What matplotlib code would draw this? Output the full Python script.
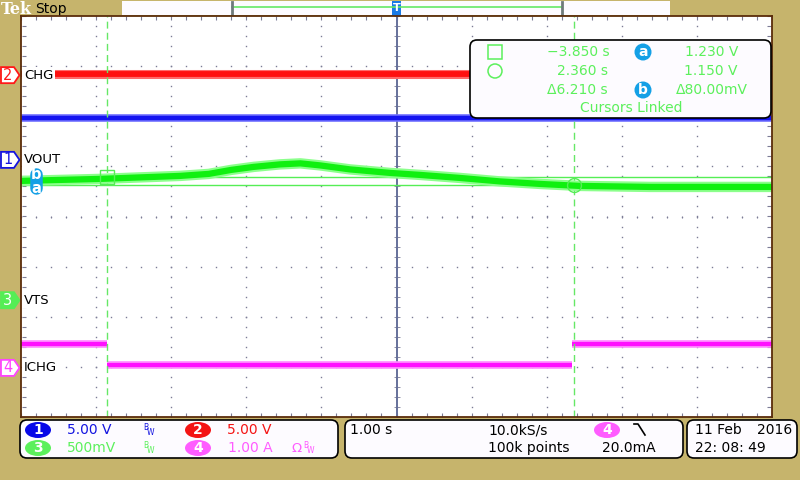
import numpy as np
import matplotlib.pyplot as plt
from matplotlib.patches import FancyBboxPatch, Polygon, Circle, Ellipse, Rectangle
from matplotlib import transforms

# channel setup: scale per division and ground level (in divisions from centre)
ch1_scale, ch1_gnd = 5.0, 1.13
ch2_scale, ch2_gnd = 5.0, 2.82
ch3_scale, ch3_gnd = 0.5, -1.67
ch4_scale, ch4_gnd = 1.0, -3.02

# traces (time in s, 1 s/div, trigger at 0)
chg_t = [-5.0, 5.0]
chg_v = [0.1, 0.1]
ch1_t = [-5.0, 5.0]
ch1_v = [4.2, 4.2]
vout_t = [-5.0, -3.95, -2.88, -2.5, -2.2, -1.9, -1.55, -1.28, -1.02,
          -0.62, -0.09, 0.31, 0.84, 1.38, 1.91, 2.44, 3.38, 5.0]
vout_v = [1.19, 1.21, 1.24, 1.26, 1.30, 1.33, 1.355, 1.365, 1.345,
          1.305, 1.27, 1.25, 1.22, 1.185, 1.16, 1.14, 1.13, 1.13]
ichg_start = [-5.0, -3.85, 2.34]
ichg_end = [-3.85, 2.34, 5.0]
ichg_a = [0.48, 0.06, 0.48]

cursor_t = [-3.85, 2.36]
cursor_v = [1.23, 1.15]

BEIGE = '#c6b46c'
GRID = '#7c7c96'
GREEN_TXT = '#5cf05c'

fig = plt.figure(figsize=(8, 4.8), dpi=100, facecolor=BEIGE)
ui = fig.add_axes([0, 0, 1, 1])
ui.set_xlim(0, 800)
ui.set_ylim(480, 0)
ui.axis('off')
ui.set_zorder(0)

ax = fig.add_axes([21 / 800, 1 - 417 / 480, 751 / 800, 401 / 480])
ax.set_zorder(1)
ax.set_xlim(-5, 5)
ax.set_ylim(-4, 4)
ax.set_facecolor('white')
for s in ax.spines.values():
    s.set_color('#5a2c0a')
    s.set_linewidth(1.3)
ax.set_xticks([])
ax.set_yticks([])

# graticule dots
for gx in range(-4, 5):
    yy = np.arange(-4, 4.01, 0.2)
    ax.plot(np.full_like(yy, gx), yy, ls='none', marker='s', ms=1.0, mew=0, color=GRID)
for gy in range(-3, 4):
    xx = np.arange(-5, 5.01, 0.2)
    ax.plot(xx, np.full_like(xx, gy), ls='none', marker='s', ms=1.0, mew=0, color=GRID)
# edge and centre ticks
mx = np.arange(-5, 5.01, 0.2)
my = np.arange(-4, 4.01, 0.2)
ax.plot(mx, np.full_like(mx, 3.97), ls='none', marker='|', ms=3, mew=0.8, color=GRID)
ax.plot(mx, np.full_like(mx, -3.97), ls='none', marker='|', ms=3, mew=0.8, color=GRID)
ax.plot(mx, np.zeros_like(mx), ls='none', marker='|', ms=2, mew=0.6, color=GRID)
ax.plot(np.full_like(my, 4.96), my, ls='none', marker='_', ms=3, mew=0.8, color=GRID)
ax.plot(np.full_like(my, -4.96), my, ls='none', marker='_', ms=3, mew=0.8, color=GRID)
ax.plot(np.zeros_like(my), my, ls='none', marker='_', ms=4.5, mew=0.6, color=GRID)
ax.axvline(0, color='#65709a', lw=1.4)


def to_div(v, scale, gnd):
    return np.asarray(v) / scale + gnd


# traces
ax.plot(ch1_t, to_div(ch1_v, ch1_scale, ch1_gnd), color='#7070ff', lw=5.5, solid_capstyle='butt')
ax.plot(ch1_t, to_div(ch1_v, ch1_scale, ch1_gnd), color='#1414f0', lw=3.2, solid_capstyle='butt')
ax.plot(chg_t, to_div(chg_v, ch2_scale, ch2_gnd), color='#ff6a6a', lw=6.5, solid_capstyle='butt')
ax.plot(chg_t, to_div(chg_v, ch2_scale, ch2_gnd), color='#ff1010', lw=4.2, solid_capstyle='butt')
ax.hlines(to_div(ichg_a, ch4_scale, ch4_gnd), ichg_start, ichg_end, color='#ff8cff', lw=5.5)
ax.hlines(to_div(ichg_a, ch4_scale, ch4_gnd), ichg_start, ichg_end, color='#ff10ff', lw=3.0)

# cursors
for ct in cursor_t:
    ax.axvline(ct, color='#66e866', lw=1.0, dashes=(5, 3))
for cv in cursor_v:
    ax.axhline(to_div(cv, ch3_scale, ch3_gnd), color='#55ee55', lw=1.0)

ax.plot(vout_t, to_div(vout_v, ch3_scale, ch3_gnd), color='#8cff8c', lw=7.5, solid_capstyle='butt')
ax.plot(vout_t, to_div(vout_v, ch3_scale, ch3_gnd), color='#10f010', lw=4.5, solid_capstyle='butt')

ax.plot(cursor_t[0], to_div(cursor_v[0], ch3_scale, ch3_gnd), marker='s', ms=10,
        mfc='none', mec='#55ee55', mew=1.0)
ax.plot(cursor_t[1], to_div(cursor_v[1], ch3_scale, ch3_gnd), marker='o', ms=10,
        mfc='none', mec='#55ee55', mew=1.0)

# channel labels inside graticule
lab_kw = dict(fontsize=9.5, color='black', va='center', ha='left',
              bbox=dict(facecolor='white', edgecolor='none', pad=1.2))
ax.text(-4.96, ch2_gnd, 'CHG', **lab_kw)
ax.text(-4.96, ch1_gnd, 'VOUT', **lab_kw)
ax.text(-4.96, ch3_gnd, 'VTS', **lab_kw)
ax.text(-4.96, ch4_gnd, 'ICHG', **lab_kw)

# cursor b/a badges on the left (pill shape)
yb = to_div(cursor_v[0], ch3_scale, ch3_gnd) + 0.05
ya = to_div(cursor_v[1], ch3_scale, ch3_gnd) - 0.07
ax.plot([-4.8, -4.8], [ya, yb], color='#14a0e6', lw=9, solid_capstyle='round')
ax.text(-4.8, yb, 'b', color='white', fontsize=10.5, fontweight='bold', ha='center', va='center')
ax.text(-4.8, ya, 'a', color='white', fontsize=10.5, fontweight='bold', ha='center', va='center')

# ground markers in the left margin
blend = transforms.blended_transform_factory(ui.transData, ax.transData)
marks = [('2', ch2_gnd, '#ff1818', False), ('1', ch1_gnd, '#1414e0', False),
         ('3', ch3_gnd, '#55ee55', True), ('4', ch4_gnd, '#ff44ff', False)]
for num, g, col, filled in marks:
    h = 0.16
    pts = [(1, g - h), (14, g - h), (19.5, g), (14, g + h), (1, g + h)]
    ui.add_patch(Polygon(pts, closed=True, transform=blend, facecolor=col if filled else 'white',
                         edgecolor=col, lw=1.3, clip_on=False))
    ui.text(8, g, num, transform=blend, color='white' if filled else col, fontsize=10.5,
            ha='center', va='center')

# top bar
ui.text(1, 9, 'Tek', color='white', fontsize=11.5, fontweight='bold', family='DejaVu Serif',
        ha='left', va='center')
ui.text(35, 9, 'Stop', color='black', fontsize=10, ha='left', va='center')
ui.add_patch(Rectangle((122, 1), 548, 14, facecolor='#fdfbff', edgecolor='none'))
ui.plot([232, 562], [7, 7], color='#66e866', lw=1.2)
for bx in (232, 562):
    ui.plot([bx, bx], [1.5, 14.5], color='#6f7a7a', lw=2)
ui.add_patch(Rectangle((392, 1), 9, 14, facecolor='#1a7ae6', edgecolor='none'))
ui.text(396.5, 8, 'T', color='white', fontsize=8, fontweight='bold', ha='center', va='center')
ui.add_patch(Polygon([(391, 15), (402, 15), (396.5, 22)], closed=True, facecolor='#1a7ae6',
                     edgecolor='none', zorder=5))

# cursor readout box, drawn on a layer above the graticule
rd = fig.add_axes([0, 0, 1, 1])
rd.set_xlim(0, 800)
rd.set_ylim(480, 0)
rd.axis('off')
rd.set_zorder(2)
rd.add_patch(FancyBboxPatch((470, 40), 301, 78, boxstyle='round,pad=0,rounding_size=7',
                            facecolor='#fdfbff', edgecolor='black', lw=1.2))
rd.add_patch(Rectangle((488, 45), 14, 14, facecolor='none', edgecolor=GREEN_TXT, lw=1.1))
rd.add_patch(Circle((495, 71), 7, facecolor='none', edgecolor=GREEN_TXT, lw=1.1))
rk = dict(color=GREEN_TXT, fontsize=10, va='center')
rd.text(610, 52, '\u22123.850 s', ha='right', **rk)
rd.text(608, 71, '2.360 s', ha='right', **rk)
rd.text(608, 90, '\u03946.210 s', ha='right', **rk)
rd.text(738, 52, '1.230 V', ha='right', **rk)
rd.text(738, 71, '1.150 V', ha='right', **rk)
rd.text(748, 90, '\u039480.00mV', ha='right', **rk)
rd.text(631, 108, 'Cursors Linked', ha='center', **rk)
for lbl, yy in (('a', 52), ('b', 90)):
    rd.add_patch(Circle((643, yy), 8.5, facecolor='#14a0e6', edgecolor='none'))
    rd.text(643, yy, lbl, color='white', fontsize=10, fontweight='bold', ha='center', va='center')

# bottom status boxes
for x0, w in ((20, 318), (345, 338), (687, 110)):
    rd.add_patch(FancyBboxPatch((x0, 420), w, 38, boxstyle='round,pad=0,rounding_size=7',
                                facecolor='#fdfbff', edgecolor='black', lw=1.2))
ovals = [(38, 430, '1', '#0808e8'), (198, 430, '2', '#f41414'),
         (38, 448, '3', '#5cf05c'), (198, 448, '4', '#ff5cff'), (607, 430, '4', '#ff5cff')]
for ox, oy, num, col in ovals:
    rd.add_patch(Ellipse((ox, oy), 26, 16, facecolor=col, edgecolor='none'))
    rd.text(ox, oy, num, color='white', fontsize=10, fontweight='bold', ha='center', va='center')
bk = dict(fontsize=10, va='center', ha='left')
rd.text(67, 430, '5.00 V', color='#1414e0', **bk)
rd.text(227, 430, '5.00 V', color='#f41414', **bk)
rd.text(67, 448, '500mV', color=GREEN_TXT, **bk)
rd.text(228, 448, '1.00 A', color='#ff5cff', **bk)
for bx, by, col in ((143, 430, '#1414e0'), (143, 448, GREEN_TXT), (303, 448, '#ff5cff')):
    rd.text(bx, by - 3, 'B', color=col, fontsize=5.5, ha='left', va='center')
    rd.text(bx + 4, by + 2.5, 'W', color=col, fontsize=5.5, ha='left', va='center')
rd.text(292, 448, '\u03a9', color='#ff5cff', fontsize=9.5, ha='left', va='center')

rd.text(350, 430, '1.00 s', color='black', **bk)
rd.text(488, 430, '10.0kS/s', color='black', **bk)
rd.text(488, 448, '100k points', color='black', **bk)
rd.text(602, 448, '20.0mA', color='black', **bk)
rd.plot([634, 638, 645], [424, 424, 435], color='black', lw=1.2)
rd.text(695, 430, '11 Feb', color='black', **bk)
rd.text(792, 430, '2016', color='black', fontsize=10, va='center', ha='right')
rd.text(695, 448, '22: 08: 49', color='black', **bk)

fig.savefig('out.png', dpi=100, facecolor=BEIGE)
